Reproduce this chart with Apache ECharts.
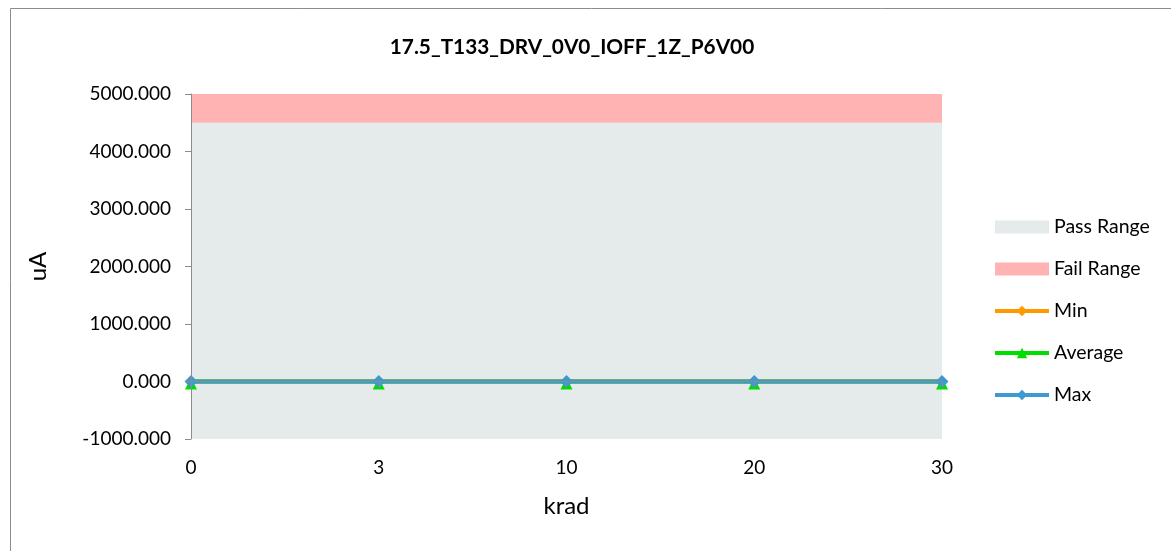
<!DOCTYPE html>
<html>
<head>
<meta charset="utf-8">
<script src="https://cdn.jsdelivr.net/npm/echarts@6/dist/echarts.min.js"></script>
<style>
html,body{margin:0;padding:0;background:#fff;}
#chart{width:1171px;height:551px;}
</style>
</head>
<body>
<div id="chart"></div>
<script>
var categories = ['0', '3', '10', '20', '30'];
var passUpper = [4500, 4500, 4500, 4500, 4500];
var failUpper = [5000, 5000, 5000, 5000, 5000];
var minValues = [0.5, 0.5, 0.5, 0.5, 0.5];
var avgValues = [0.4, 0.4, 0.4, 0.4, 0.4];
var maxValues = [0.6, 0.6, 0.6, 0.6, 0.6];
var yTicks = { min: -1000, max: 5000, interval: 1000 };

var failBand = failUpper.map(function (v, i) { return v - passUpper[i]; });
var FONT = 'Lato, "Open Sans", "Noto Sans", sans-serif';

var chart = echarts.init(document.getElementById('chart'), null, { renderer: 'canvas' });
chart.setOption({
  animation: false,
  backgroundColor: '#fff',
  textStyle: { fontFamily: FONT },
  graphic: [{
    type: 'rect',
    shape: { x: 10.5, y: 8.5, width: 1300, height: 700 },
    style: { fill: 'none', stroke: '#8c8c8c', lineWidth: 1 },
    silent: true, z: -10
  }],
  title: {
    text: '17.5_T133_DRV_0V0_IOFF_1Z_P6V00',
    left: 567, top: 32, textAlign: 'center',
    textStyle: { fontFamily: FONT, fontSize: 20.8, fontWeight: 'bold', color: '#000' }
  },
  grid: { left: 191, right: 229, top: 94, bottom: 112, containLabel: false },
  legend: {
    orient: 'vertical', left: 988, top: 212,
    itemWidth: 54, itemHeight: 13, itemGap: 22,
    textStyle: { fontFamily: FONT, fontSize: 19.5, lineHeight: 20, color: '#000' },
    data: [
      { name: 'Pass Range', icon: 'rect' },
      { name: 'Fail Range', icon: 'rect' },
      { name: 'Min', lineStyle: { width: 4 } },
      { name: 'Average', lineStyle: { width: 4 } },
      { name: 'Max', lineStyle: { width: 4 } }
    ]
  },
  xAxis: {
    type: 'category', data: categories, boundaryGap: false, z: 10,
    name: 'krad', nameLocation: 'middle', nameGap: 55,
    nameTextStyle: { fontFamily: FONT, fontSize: 24, color: '#000' },
    axisLine: { lineStyle: { color: '#8c8c8c', width: 1 } },
    axisTick: { show: true, alignWithLabel: true, length: 6, lineStyle: { color: '#8c8c8c' } },
    axisLabel: { fontFamily: FONT, fontSize: 19, color: '#000', margin: 19 },
    splitLine: { show: false }
  },
  yAxis: {
    type: 'value', min: yTicks.min, max: yTicks.max, interval: yTicks.interval, z: 10,
    name: 'uA', nameLocation: 'middle', nameGap: 141,
    nameTextStyle: { fontFamily: FONT, fontSize: 24, color: '#000' },
    axisLine: { show: true, lineStyle: { color: '#8c8c8c', width: 1 } },
    axisTick: { show: true, length: 6, lineStyle: { color: '#8c8c8c' } },
    axisLabel: { fontFamily: FONT, fontSize: 19, color: '#000', margin: 20,
      formatter: function (v) { return v.toFixed(3); } },
    splitLine: { show: false }
  },
  series: [
    {
      name: 'Pass Range', type: 'line', data: passUpper, stack: 'range',
      symbol: 'none', color: '#e5ebeb',
      lineStyle: { width: 0, color: '#e5ebeb' },
      itemStyle: { color: '#e5ebeb' },
      areaStyle: { color: '#e5ebeb', opacity: 1, origin: 'start' },
      z: 1, silent: true
    },
    {
      name: 'Fail Range', type: 'line', data: failBand, stack: 'range',
      symbol: 'none', color: '#ffb3b3',
      lineStyle: { width: 0, color: '#ffb3b3' },
      itemStyle: { color: '#ffb3b3' },
      areaStyle: { color: '#ffb3b3', opacity: 1 },
      z: 1, silent: true
    },
    {
      name: 'Min', type: 'line', data: minValues,
      symbol: 'diamond', symbolSize: 11, color: '#ff9900',
      lineStyle: { width: 4, color: '#ff9900' },
      itemStyle: { color: '#ff9900' }, z: 3
    },
    {
      name: 'Average', type: 'line', data: avgValues,
      symbol: 'triangle', symbolSize: 12, symbolOffset: [0, 2], color: '#00dd00',
      lineStyle: { width: 4, color: '#00dd00' },
      itemStyle: { color: '#00dd00' }, z: 4
    },
    {
      name: 'Max', type: 'line', data: maxValues,
      symbol: 'diamond', symbolSize: 13, color: '#3c9ad0',
      lineStyle: { width: 4, color: '#3c9ad0' },
      itemStyle: { color: '#3c9ad0' }, z: 5
    }
  ]
});
</script>
</body>
</html>
